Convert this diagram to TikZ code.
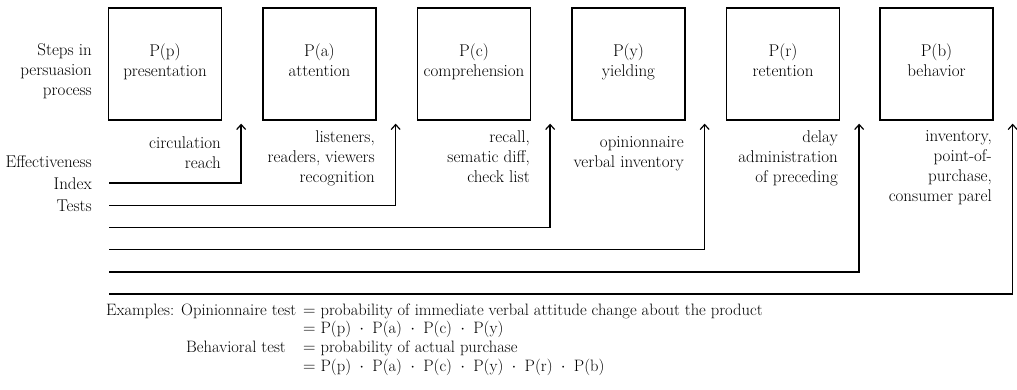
\documentclass[tikz,border=0pt]{standalone}
\usetikzlibrary{arrows.meta}
\tikzset{
  stepbox/.style={draw, line width=1.3pt, minimum width=113pt, minimum height=112pt, inner sep=0pt},
  txt/.style={inner sep=0pt, font=\fontsize{17}{20}\selectfont, execute at begin node=\strut},
  wide/.style={inner sep=0pt, font=\fontsize{17}{22}\selectfont, execute at begin node=\strut},
  line/.style={inner sep=0pt, font=\fontsize{16.5}{18}\selectfont, anchor=base west},
  conn/.style={line width=1.4pt, -{Straight Barb[length=5pt,width=9pt,line width=1.2pt]}},
}
\newcommand{\dt}{\enspace$\cdot$\enspace}
\begin{document}
\begin{tikzpicture}[x=1pt,y=-1pt]
\useasboundingbox (0,0) rectangle (1017,389);

% steps of the persuasion process
\foreach \n/\x/\a/\b in {p/165/P(p)/presentation, a/319.5/P(a)/attention,
    c/474/P(c)/comprehension, y/628.5/P(y)/yielding,
    r/783/P(r)/retention, b/936.5/P(b)/behavior}{
  \node[stepbox] (box\n) at (\x,64) {};
  \node[txt, align=center, anchor=north] (name\n) at (\x,43.5) {\a\\\b};
}

% row titles
\node[txt, align=right, anchor=north east] (steps) at (92,43.5) {Steps in\\persuasion\\process};
\node[wide, align=right, anchor=north east] (tests) at (92,155.5) {Effectiveness\\Index\\Tests};

% test labels under each step
\node[txt, align=right, anchor=north east] (tp) at (221,136.5) {circulation\\reach};
\node[txt, align=right, anchor=north east] (ta) at (375,130.5) {listeners,\\readers, viewers\\recognition};
\node[txt, align=right, anchor=north east] (tc) at (530,130.5) {recall,\\sematic diff,\\check list};
\node[txt, align=right, anchor=north east] (ty) at (684,136.5) {opinionnaire\\verbal inventory};
\node[txt, align=right, anchor=north east] (tr) at (838,130.5) {delay\\administration\\of preceding};
\node[txt, align=right, anchor=north east] (tb) at (992,130.5) {inventory,\\point-of-\\purchase,\\consumer parel};

% connectors from the tests to each step
\foreach \n/\y/\t in {1/183/p, 2/205.2/a, 3/227.4/c, 4/249.6/y, 5/271.8/r, 6/294/b}{
  \coordinate (s\n) at (109,\y);
  \coordinate (e\n) at ([shift={(19,3)}]box\t.south east);
  \draw[conn] (s\n) -| (e\n);
}

% examples
\node[line] (ex) at (106,315) {Examples:};
\node[line] (op) at (181,315) {Opinionnaire test};
\node[line] (op1) at (303,315) {$=$ probability of immediate verbal attitude change about the product};
\node[line] (op2) at (303,333.7) {$=$ P(p)\dt P(a)\dt P(c)\dt P(y)};
\node[line] (be) at (186,352.4) {Behavioral test};
\node[line] (be1) at (303,352.4) {$=$ probability of actual purchase};
\node[line] (be2) at (303,371.1) {$=$ P(p)\dt P(a)\dt P(c)\dt P(y)\dt P(r)\dt P(b)};
\end{tikzpicture}
\end{document}
